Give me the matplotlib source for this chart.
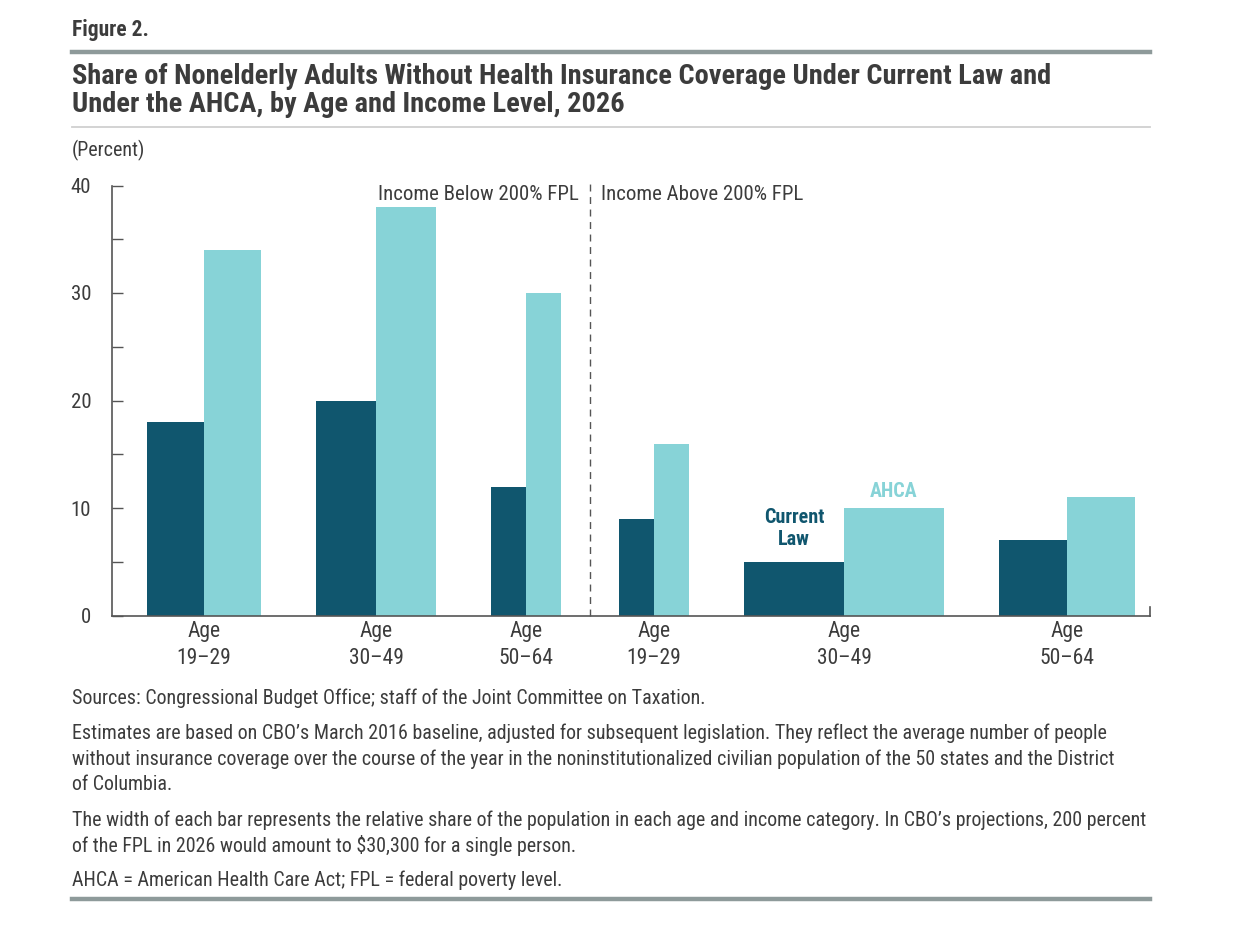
import numpy as np
import matplotlib.pyplot as plt
from matplotlib import font_manager

# data
ages = ["Age\n19\u201329", "Age\n30\u201349", "Age\n50\u201364",
        "Age\n19\u201329", "Age\n30\u201349", "Age\n50\u201364"]
current_law = [18, 20, 12, 9, 5, 7]
ahca = [34, 38, 30, 16, 10, 11]
# relative population share -> bar width
shares = [57, 60, 35, 35, 100, 68]

dark = "#10566e"
light = "#87d3d7"
txt = "#3c3c3c"

names = {f.name for f in font_manager.fontManager.ttflist}
family = "DejaVu Sans"
for cand in ["Roboto Condensed", "Liberation Sans Narrow", "Roboto"]:
    if cand in names:
        family = cand
        break
plt.rcParams["font.family"] = family

W, H = 1253, 926
fig = plt.figure(figsize=(W / 100, H / 100), dpi=100)


def px(x, y):
    return x / W, 1 - y / H


ax = fig.add_axes([112 / W, 1 - 615.5 / H, (1150 - 112) / W, (615.5 - 185.5) / H])

# bar layout
gap = 55
start = 35
lefts = []
pos = start
for i, s in enumerate(shares):
    if i == 3:
        pos += 3
    lefts.append(pos)
    pos += 2 * s + gap
lefts = np.array(lefts)
shares = np.array(shares)

ax.bar(lefts, current_law, width=shares, align="edge", color=dark)
ax.bar(lefts + shares, ahca, width=shares, align="edge", color=light)

ax.set_xlim(0, 1038)
ax.set_ylim(0, 40)
ax.set_xticks(lefts + shares)
ax.set_xticklabels(ages, fontsize=15.5, color=txt, linespacing=1.35)
ax.tick_params(axis="x", length=0, pad=4)
ax.set_yticks([0, 10, 20, 30, 40])
ax.set_yticks([5, 15, 25, 35], minor=True)
ax.tick_params(axis="y", which="both", direction="in", length=8, width=1,
               color="#555555", labelsize=15, labelcolor=txt, pad=15)
for lab in ax.get_yticklabels():
    lab.set_horizontalalignment("right")

ax.spines["top"].set_visible(False)
ax.spines["right"].set_bounds(0, 0.8)
for side in ["left", "bottom", "right"]:
    ax.spines[side].set_color("#555555")
    ax.spines[side].set_linewidth(1.2)

# divider between income groups
div = (lefts[2] + 2 * shares[2] + lefts[3]) / 2
ax.plot([div, div], [0, 40.5], ls=(0, (5, 4)), color="#555555", lw=1, clip_on=False)
ax.text(div - 11, 39.2, "Income Below 200% FPL", ha="right", va="center",
        fontsize=15, color=txt)
ax.text(div + 11, 39.2, "Income Above 200% FPL", ha="left", va="center",
        fontsize=15, color=txt)

# inline labels
ax.text(lefts[4] + shares[4] / 2, 8.1, "Current\nLaw", ha="center", va="center",
        fontsize=14.5, fontweight="bold", color=dark, linespacing=1.2)
ax.text(lefts[4] + 1.5 * shares[4], 11.5, "AHCA", ha="center", va="center",
        fontsize=14.5, fontweight="bold", color=light)

# header
fig.text(*px(72, 30), "Figure 2.", ha="left", va="center", fontsize=15.5,
         fontweight="bold", color=txt)
fig.add_artist(plt.Line2D([72 / W, 1150 / W], [1 - 52 / H] * 2, color="#8e9a9a", lw=3.2))
fig.text(*px(72, 77), "Share of Nonelderly Adults Without Health Insurance Coverage Under Current Law and",
         ha="left", va="center", fontsize=20.4, fontweight="bold", color=txt)
fig.text(*px(72, 104), "Under the AHCA, by Age and Income Level, 2026",
         ha="left", va="center", fontsize=20.4, fontweight="bold", color=txt)
fig.add_artist(plt.Line2D([72 / W, 1150 / W], [1 - 127 / H] * 2, color="#d0d0d0", lw=1.3))
fig.text(*px(72, 150), "(Percent)", ha="left", va="center", fontsize=14.4, color=txt)

# notes
notes = [
    (698, "Sources: Congressional Budget Office; staff of the Joint Committee on Taxation."),
    (733, "Estimates are based on CBO\u2019s March 2016 baseline, adjusted for subsequent legislation. They reflect the average number of people"),
    (759, "without insurance coverage over the course of the year in the noninstitutionalized civilian population of the 50 states and the District"),
    (784, "of Columbia."),
    (820, "The width of each bar represents the relative share of the population in each age and income category. In CBO\u2019s projections, 200 percent"),
    (845, "of the FPL in 2026 would amount to $30,300 for a single person."),
    (880, "AHCA = American Health Care Act; FPL = federal poverty level."),
]
for y, s in notes:
    fig.text(*px(72, y), s, ha="left", va="center", fontsize=14.4, color=txt)
fig.add_artist(plt.Line2D([72 / W, 1150 / W], [1 - 899 / H] * 2, color="#8e9a9a", lw=3.2))

fig.savefig("out.png", dpi=100)
